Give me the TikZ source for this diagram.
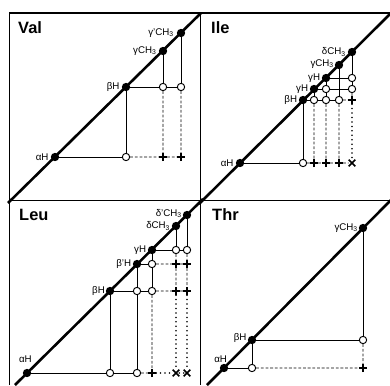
\documentclass[tikz,border=0pt]{standalone}
\usepackage{fontspec}
\setmainfont{Liberation Sans}
\usetikzlibrary{positioning,shapes.misc}

\begin{document}
\begin{tikzpicture}[x=0.03cm,y=-0.03cm]
    \tikzstyle{dpeak} = [circle, fill=black, minimum size=0.25cm, inner sep=0pt]
    \tikzstyle{cpeak} = [circle, draw, fill=white, line width=0.8pt, minimum size=0.22cm, inner sep=0pt]
    \tikzstyle{rpeak} = [cross out, draw, rotate=45, line width=1pt, minimum size=0.14cm, inner sep=0pt]
    \tikzstyle{rrpeak} = [cross out, draw, line width=1.3pt, minimum size=0.15cm, inner sep=0pt]
    \tikzstyle{lab} = [font=\fontsize{8.3}{9}\selectfont, inner sep=0.5pt]
    \tikzstyle{ttl} = [font=\fontsize{14}{16}\selectfont\bfseries, inner sep=0pt, anchor=base west]
    \tikzstyle{link} = [line width=0.75pt]
    \tikzstyle{rlink} = [line width=0.8pt, dash pattern=on 2.4pt off 1.6pt]
    \tikzstyle{rrlink} = [line width=1.5pt, line cap=round, dash pattern=on 0pt off 3.8pt]
    \tikzstyle{diagonal} = [line width=2.2pt]

    \useasboundingbox (0,0) rectangle (390,385);

    % Frame
    \draw[link] (9,385) -- (9,13);
    \draw[line width=1.1pt] (9,13) -- (390,13);
    \draw[link] (200,13) -- (200,385);
    \draw[link] (9,200) -- (390,200);

    % Diagonals
    \draw[diagonal] (8,203) -- (201,13);
    \draw[diagonal] (199,204) -- (391,13);
    \draw[diagonal] (15,385) -- (203,199);
    \draw[diagonal] (207,385) -- (391,200);

    % Val
    \node[ttl] (tval) at (18,33) {Val};
    \node[dpeak] (va) at (55,157) {};
    \node[dpeak] (vb) at (126,87) {};
    \node[dpeak] (vg) at (163,51) {};
    \node[dpeak] (vgp) at (181,33) {};
    \node[cpeak] (vo1) at (126,157) {};
    \node[cpeak] (vo2) at (163,87) {};
    \node[cpeak] (vo3) at (181,87) {};
    \node[rpeak] (vp1) at (163,157) {};
    \node[rpeak] (vp2) at (181,157) {};
    \node[lab, left=0.04cm of va] (lva) {αH};
    \node[lab, left=0.04cm of vb] (lvb) {βH};
    \node[lab, left=0.04cm of vg] (lvg) {γCH\textsubscript{3}};
    \node[lab, left=0.06cm of vgp] (lvgp) {γ'CH\textsubscript{3}};
    \draw[link] (va) -- (vo1);
    \draw[link] (vb) -- (vo1);
    \draw[link] (vb) -- (vo2) -- (vo3);
    \draw[link] (vg) -- (vo2);
    \draw[link] (vgp) -- (vo3);
    \draw[rlink] (vo1) -- (vp1) -- (vp2);
    \draw[rlink] (vo2) -- (vp1);
    \draw[rlink] (vo3) -- (vp2);

    % Ile
    \node[ttl] (tile) at (211,33) {Ile};
    \node[dpeak] (ia) at (240,163) {};
    \node[dpeak] (ib) at (303,100) {};
    \node[dpeak] (ig1) at (314,89) {};
    \node[dpeak] (ig2) at (326,78) {};
    \node[dpeak] (igm) at (339,65) {};
    \node[dpeak] (id) at (352,52) {};
    \node[cpeak] (io0) at (303,163) {};
    \node[cpeak] (io1) at (314,100) {};
    \node[cpeak] (io2) at (326,100) {};
    \node[cpeak] (io3) at (339,100) {};
    \node[cpeak] (io4) at (326,89) {};
    \node[cpeak] (io5) at (352,89) {};
    \node[cpeak] (io6) at (352,78) {};
    \node[rpeak] (ip1) at (352,100) {};
    \node[rpeak] (ip2) at (314,163) {};
    \node[rpeak] (ip3) at (326,163) {};
    \node[rpeak] (ip4) at (339,163) {};
    \node[rrpeak] (ix) at (352,163) {};
    \node[lab, left=0.04cm of ia] (lia) {αH};
    \node[lab, left=0.02cm of ib] (lib) {βH};
    \node[lab, left=0.02cm of ig1] (lig1) {γH};
    \node[lab, left=0.02cm of ig2] (lig2) {γH};
    \node[lab, left=0cm of igm, yshift=0.03cm] (ligm) {γCH\textsubscript{3}};
    \node[lab, left=0.03cm of id] (lid) {δCH\textsubscript{3}};
    \draw[link] (ia) -- (io0);
    \draw[link] (ib) -- (io0);
    \draw[link] (ib) -- (io1) -- (io2) -- (io3);
    \draw[link] (ig1) -- (io4) -- (io5);
    \draw[link] (ig2) -- (io6);
    \draw[link] (ig1) -- (io1);
    \draw[link] (ig2) -- (io4) -- (io2);
    \draw[link] (igm) -- (io3);
    \draw[link] (id) -- (io6) -- (io5);
    \draw[rlink] (io3) -- (ip1);
    \draw[rlink] (io5) -- (ip1);
    \draw[rlink] (io1) -- (ip2);
    \draw[rlink] (io2) -- (ip3);
    \draw[rlink] (io3) -- (ip4);
    \draw[rlink] (io0) -- (ip2) -- (ip3) -- (ip4) -- (ix);
    \draw[rrlink] (ip1) -- (ix);

    % Leu
    \node[ttl] (tleu) at (19,220) {Leu};
    \node[dpeak] (la) at (27,373) {};
    \node[dpeak] (lb) at (110,291) {};
    \node[dpeak] (lbp) at (137,264) {};
    \node[dpeak] (lg) at (152,250) {};
    \node[dpeak] (ld) at (176,226) {};
    \node[dpeak] (ldp) at (187,215) {};
    \node[cpeak] (lo0) at (110,373) {};
    \node[cpeak] (lo1) at (137,291) {};
    \node[cpeak] (lo2) at (152,291) {};
    \node[cpeak] (lo3) at (152,264) {};
    \node[cpeak] (lo4) at (176,250) {};
    \node[cpeak] (lo5) at (187,250) {};
    \node[cpeak] (lo6) at (137,373) {};
    \node[rpeak] (lp1) at (176,291) {};
    \node[rpeak] (lp2) at (187,291) {};
    \node[rpeak] (lp3) at (176,264) {};
    \node[rpeak] (lp4) at (187,264) {};
    \node[rpeak] (lp5) at (152,373) {};
    \node[rrpeak] (lx1) at (176,373) {};
    \node[rrpeak] (lx2) at (187,373) {};
    \node[lab, above=0.15cm of la, xshift=-0.05cm] (lla) {αH};
    \node[lab, left=0cm of lb] (llb) {βH};
    \node[lab, left=0.02cm of lbp] (llbp) {β'H};
    \node[lab, left=0.02cm of lg] (llg) {γH};
    \node[lab, left=0.02cm of ld] (lld) {δCH\textsubscript{3}};
    \node[lab, left=0cm of ldp, yshift=0.04cm] (lldp) {δ'CH\textsubscript{3}};
    \draw[link] (la) -- (lo0) -- (lo6);
    \draw[link] (lb) -- (lo0);
    \draw[link] (lb) -- (lo1) -- (lo2);
    \draw[link] (lbp) -- (lo1) -- (lo6);
    \draw[link] (lbp) -- (lo3);
    \draw[link] (lg) -- (lo3) -- (lo2);
    \draw[link] (lg) -- (lo4) -- (lo5);
    \draw[link] (ld) -- (lo4);
    \draw[link] (ldp) -- (lo5);
    \draw[rlink] (lo2) -- (lp1) -- (lp2);
    \draw[rlink] (lo3) -- (lp3) -- (lp4);
    \draw[rlink] (lo4) -- (lp3) -- (lp1);
    \draw[rlink] (lo5) -- (lp4) -- (lp2);
    \draw[rlink] (lo2) -- (lp5);
    \draw[rlink] (lo6) -- (lp5);
    \draw[rrlink] (lp1) -- (lx1);
    \draw[rrlink] (lp2) -- (lx2);
    \draw[rrlink] (lp5) -- (lx1) -- (lx2);

    % Thr
    \node[ttl] (tthr) at (212,220) {Thr};
    \node[dpeak] (ta) at (224,368) {};
    \node[dpeak] (tb) at (252,340) {};
    \node[dpeak] (tg) at (363,228) {};
    \node[cpeak] (to1) at (252,368) {};
    \node[cpeak] (to2) at (363,340) {};
    \node[rpeak] (tp) at (363,368) {};
    \node[lab, above=0cm of ta, xshift=-0.1cm] (lta) {αH};
    \node[lab, left=0.01cm of tb, yshift=0.07cm] (ltb) {βH};
    \node[lab, left=0cm of tg] (ltg) {γCH\textsubscript{3}};
    \draw[link] (ta) -- (to1);
    \draw[link] (tb) -- (to1);
    \draw[link] (tb) -- (to2);
    \draw[link] (tg) -- (to2);
    \draw[rlink] (to1) -- (tp);
    \draw[rlink] (to2) -- (tp);

\end{tikzpicture}
\end{document}
